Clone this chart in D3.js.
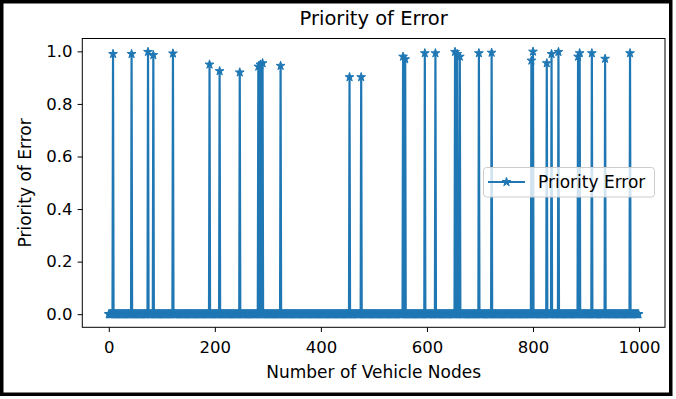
<!DOCTYPE html>
<html>
<head>
<meta charset="utf-8">
<script src="https://cdn.jsdelivr.net/npm/d3@7"></script>
<style>
  body { margin: 0; background: #fff; }
  svg { display: block; font-family: "DejaVu Sans", sans-serif; }
</style>
</head>
<body>
<svg id="chart" width="676" height="399"></svg>
<script>
// number of nodes on the x axis (0 .. 999), every node not listed below sits at 0
const nodeCount = 1000;
// nodes with a non-zero priority error
const spikeNodes = [8, 43, 74, 84, 121, 190, 209, 247, 282, 286, 290, 324, 454, 476,
  555, 559, 596, 616, 653, 657, 662, 698, 722, 797, 800, 826, 835, 848, 885, 888,
  911, 936, 983];
const spikeValues = [0.99, 0.99, 0.998, 0.986, 0.992, 0.95, 0.925, 0.92, 0.942, 0.95,
  0.955, 0.945, 0.902, 0.902, 0.98, 0.97, 0.993, 0.993, 0.998, 0.99, 0.98, 0.993,
  0.995, 0.965, 0.999, 0.955, 0.99, 0.998, 0.98, 0.993, 0.993, 0.972, 0.993];
const xTicks = [0, 200, 400, 600, 800, 1000];
const yTicks = [0, 0.2, 0.4, 0.6, 0.8, 1.0];
const seriesName = "Priority Error";

const blue = "#1f77b4";
const plotLeft = 82.3, plotRight = 665, plotTop = 38.5, plotBottom = 327.3;
const tickFont = "16.5px", labelFont = "17px";

const spikeMap = new Map(spikeNodes.map((n, i) => [n, spikeValues[i]]));
const data = d3.range(nodeCount).map(n => ({ node: n, value: spikeMap.get(n) || 0 }));

const svg = d3.select("#chart");

const x = d3.scaleLinear()
  .domain([-(nodeCount - 1) * 0.05, (nodeCount - 1) * 1.05])
  .range([plotLeft, plotRight]);
const yMax = d3.max(spikeValues);
const y = d3.scaleLinear()
  .domain([-yMax * 0.05, yMax * 1.05])
  .range([plotBottom, plotTop]);

// outer frame
svg.append("rect")
  .attr("x", 1.75).attr("y", 1.75)
  .attr("width", 669).attr("height", 392.5)
  .attr("fill", "#fff")
  .attr("stroke", "#000")
  .attr("stroke-width", 3.5);

// axes
const xAxis = svg.append("g")
  .attr("transform", "translate(0," + plotBottom + ")")
  .call(d3.axisBottom(x).tickValues(xTicks).tickFormat(d3.format("d"))
    .tickSize(4.7).tickPadding(9));
const yAxis = svg.append("g")
  .attr("transform", "translate(" + plotLeft + ",0)")
  .call(d3.axisLeft(y).tickValues(yTicks).tickFormat(d3.format(".1f"))
    .tickSize(4.7).tickPadding(5));
[xAxis, yAxis].forEach(g => {
  g.select(".domain").remove();
  g.selectAll("text")
    .attr("fill", "#000")
    .style("font-family", "DejaVu Sans")
    .style("font-size", tickFont);
  g.selectAll("line").attr("stroke", "#000").attr("stroke-width", 1);
});

// line + star markers
const plot = svg.append("g");
const line = d3.line()
  .x(d => x(d.node))
  .y(d => y(d.value));
plot.append("path")
  .datum(data)
  .attr("fill", "none")
  .attr("stroke", blue)
  .attr("stroke-width", 2.2)
  .attr("stroke-linejoin", "round")
  .attr("d", line);

const star = d3.symbol().type(d3.symbolStar).size(24);
plot.selectAll("path.marker")
  .data(data)
  .enter()
  .append("path")
  .attr("class", "marker")
  .attr("d", star)
  .attr("transform", d => "translate(" + x(d.node) + "," + y(d.value) + ")")
  .attr("fill", blue)
  .attr("stroke", blue)
  .attr("stroke-width", 1);

// spines
svg.append("rect")
  .attr("x", plotLeft).attr("y", plotTop)
  .attr("width", plotRight - plotLeft).attr("height", plotBottom - plotTop)
  .attr("fill", "none")
  .attr("stroke", "#000")
  .attr("stroke-width", 1);

// legend
const legend = svg.append("g");
legend.append("rect")
  .attr("x", 483.5).attr("y", 167.5)
  .attr("width", 171).attr("height", 29.5)
  .attr("rx", 3)
  .attr("fill", "#fff")
  .attr("fill-opacity", 0.8)
  .attr("stroke", "#ccc")
  .attr("stroke-width", 1);
legend.append("line")
  .attr("x1", 488).attr("x2", 525)
  .attr("y1", 182).attr("y2", 182)
  .attr("stroke", blue)
  .attr("stroke-width", 2.2);
legend.append("path")
  .attr("d", star)
  .attr("transform", "translate(506.5,182)")
  .attr("fill", blue)
  .attr("stroke", blue)
  .attr("stroke-width", 1);
legend.append("text")
  .attr("x", 538).attr("y", 188)
  .style("font-size", labelFont)
  .attr("fill", "#000")
  .text(seriesName);

// title and axis labels
svg.append("text")
  .attr("x", (plotLeft + plotRight) / 2).attr("y", 25)
  .attr("text-anchor", "middle")
  .style("font-size", "19.5px")
  .text("Priority of Error");
svg.append("text")
  .attr("x", (plotLeft + plotRight) / 2).attr("y", 378)
  .attr("text-anchor", "middle")
  .style("font-size", labelFont)
  .text("Number of Vehicle Nodes");
svg.append("text")
  .attr("transform", "translate(30.5," + (plotTop + plotBottom) / 2 + ") rotate(-90)")
  .attr("text-anchor", "middle")
  .style("font-size", labelFont)
  .text("Priority of Error");
</script>
</body>
</html>
